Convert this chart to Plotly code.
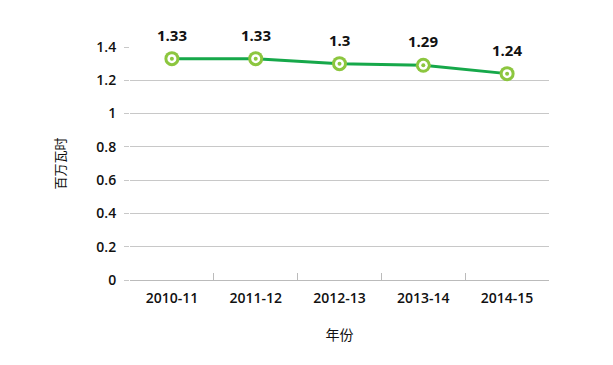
import plotly.graph_objects as go

years = ["2010-11", "2011-12", "2012-13", "2013-14", "2014-15"]
values = [1.33, 1.33, 1.30, 1.29, 1.24]
labels = ["1.33", "1.33", "1.3", "1.29", "1.24"]
y_ticks = [0, 0.2, 0.4, 0.6, 0.8, 1, 1.2, 1.4]
y_tick_text = ["0", "0.2", "0.4", "0.6", "0.8", "1", "1.2", "1.4"]

LINE = "#16a84a"
LIGHT = "#8cc63f"
FONT = "Open Sans, Noto Sans CJK SC, sans-serif"

fig = go.Figure()
fig.add_trace(go.Scatter(x=years, y=values, mode="lines",
                         line=dict(color=LINE, width=3), cliponaxis=False,
                         hoverinfo="skip"))
fig.add_trace(go.Scatter(x=years, y=values, mode="markers",
                         marker=dict(size=15, color=LIGHT), cliponaxis=False))
fig.add_trace(go.Scatter(x=years, y=values, mode="markers",
                         marker=dict(size=9, color="white"), cliponaxis=False))
fig.add_trace(go.Scatter(x=years, y=values, mode="markers",
                         marker=dict(size=4, color=LIGHT), cliponaxis=False))

for x, v, t in zip(years, values, labels):
    fig.add_annotation(x=x, y=v, text="<b>%s</b>" % t, showarrow=False,
                       yshift=24, font=dict(size=15, color="#111", family=FONT))

fig.update_layout(
    width=605, height=357,
    margin=dict(l=122, r=64, t=39, b=85),
    plot_bgcolor="white", paper_bgcolor="white",
    showlegend=False,
    font=dict(family=FONT, size=14, color="#222"),
    xaxis=dict(
        type="category", tickson="boundaries", ticks="inside", ticklen=7,
        tickcolor="#bbb", showline=True, linecolor="#bbb", linewidth=1,
        showgrid=False, tickfont=dict(size=14, color="#111", weight=600),
        ticklabelstandoff=5,
        title=dict(text="年份", standoff=24, font=dict(size=14, color="#111")),
        range=[-0.5, 4.5], automargin=False,
    ),
    yaxis=dict(
        range=[0, 1.4], tickvals=y_ticks, ticktext=y_tick_text,
        showgrid=True, gridcolor="#c8c8c8", gridwidth=1,
        ticks="outside", ticklen=5, tickcolor="#c8c8c8",
        zeroline=False, showline=False,
        tickfont=dict(size=14, color="#111", weight=600),
        ticklabelstandoff=5,
        title=dict(text="百万瓦时", standoff=27, font=dict(size=13, color="#111")),
        automargin=False,
    ),
)

fig.write_html("out.html")
